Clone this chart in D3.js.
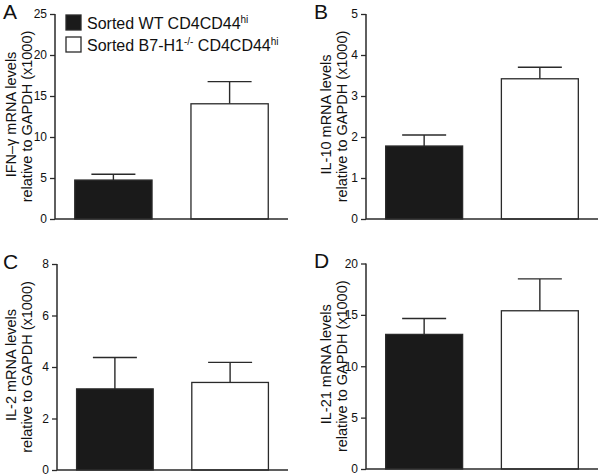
<!DOCTYPE html>
<html><head><meta charset="utf-8">
<script src="https://cdn.jsdelivr.net/npm/d3@7"></script>
<style>body{margin:0;background:#fff}text{font-family:"Liberation Sans",Arial,sans-serif;fill:#111}</style>
</head><body>
<svg id="c" width="600" height="476"></svg>
<script>
const categories = ["Sorted WT CD4CD44hi", "Sorted B7-H1-/- CD4CD44hi"];
const panelLetters = ["A", "B", "C", "D"];
const yLabelLine1 = ["IFN\u2013\u03b3 mRNA levels", "IL-10 mRNA levels", "IL-2 mRNA levels", "IL-21 mRNA levels"];
const yLabelLine2 = "relative to GAPDH (x1000)";
const meansA = [4.75, 14.05]; const errA = [0.7, 2.7];
const meansB = [1.78, 3.42];  const errB = [0.27, 0.28];
const meansC = [3.15, 3.4];   const errC = [1.22, 0.78];
const meansD = [13.1, 15.4];  const errD = [1.55, 3.1];
const ticksA = [0, 5, 10, 15, 20, 25];
const ticksB = [0, 1, 2, 3, 4, 5];
const ticksC = [0, 2, 4, 6, 8];
const ticksD = [0, 5, 10, 15, 20];

const fills = ["#1a1a1a", "#ffffff"];
const svg = d3.select("#c");
const layout = [
  {x0: 55, x1: 288, yTop: 14, yBot: 219, means: meansA, errs: errA, ticks: ticksA, l1: 16, l2: 32},
  {x0: 366, x1: 598, yTop: 14, yBot: 219, means: meansB, errs: errB, ticks: ticksB, l1: 331, l2: 347},
  {x0: 57, x1: 288, yTop: 264, yBot: 470, means: meansC, errs: errC, ticks: ticksC, l1: 16, l2: 32},
  {x0: 366, x1: 598, yTop: 263.5, yBot: 469, means: meansD, errs: errD, ticks: ticksD, l1: 331, l2: 347}
];

layout.forEach((p, i) => {
  const g = svg.append("g");
  const y = d3.scaleLinear().domain([0, d3.max(p.ticks)]).range([p.yBot, p.yTop]);
  const x = d3.scaleBand().domain(categories).range([p.x0, p.x1]).paddingInner(0.335).paddingOuter(0.17);
  categories.forEach((c, j) => {
    const v = p.means[j], e = p.errs[j];
    const cx = x(c) + x.bandwidth() / 2;
    g.append("line").attr("x1", cx).attr("x2", cx).attr("y1", y(v)).attr("y2", y(v + e))
      .attr("stroke", "#2a2a2a").attr("stroke-width", 1.4);
    g.append("line").attr("x1", cx - 22).attr("x2", cx + 22).attr("y1", y(v + e)).attr("y2", y(v + e))
      .attr("stroke", "#2a2a2a").attr("stroke-width", 1.4);
    g.append("rect").attr("x", x(c)).attr("width", x.bandwidth())
      .attr("y", y(v)).attr("height", y(0) - y(v))
      .attr("fill", fills[j]).attr("stroke", "#2a2a2a").attr("stroke-width", 1.3);
  });
  const ya = g.append("g").attr("transform", `translate(${p.x0},0)`)
    .call(d3.axisLeft(y).tickValues(p.ticks).tickSize(5).tickPadding(3).tickFormat(d3.format("d")));
  ya.select(".domain").attr("stroke", "#2a2a2a").attr("stroke-width", 1.5).attr("d", `M0,${p.yTop}V${p.yBot}`);
  ya.selectAll(".tick line").attr("stroke", "#2a2a2a").attr("stroke-width", 1.3);
  ya.selectAll(".tick text").style("font-family", '"Liberation Sans",Arial,sans-serif').style("font-size", "12px").style("fill", "#111");
  g.append("line").attr("x1", p.x0).attr("x2", p.x1).attr("y1", p.yBot).attr("y2", p.yBot)
    .attr("stroke", "#2a2a2a").attr("stroke-width", 1.5);
  const cy = (p.yTop + p.yBot) / 2;
  g.append("text").attr("transform", `translate(${p.l1},${cy - 2}) rotate(-90)`)
    .attr("text-anchor", "middle").style("font-size", "14.5px").text(yLabelLine1[i]);
  g.append("text").attr("transform", `translate(${p.l2},${cy}) rotate(-90)`)
    .attr("text-anchor", "middle").style("font-size", "14.5px").text(yLabelLine2);
  g.append("text").attr("x", (i % 2 === 0) ? 3 : 314).attr("y", p.yTop + 4.5)
    .style("font-size", "21px").text(panelLetters[i]);
});

const leg = svg.append("g");
const legendParts = [
  [["Sorted WT CD4CD44", false], ["hi", true]],
  [["Sorted B7-H1", false], ["-/-", true], [" CD4CD44", false], ["hi", true]]
];
legendParts.forEach((parts, j) => {
  const yy = 15 + j * 22;
  leg.append("rect").attr("x", 66).attr("y", yy).attr("width", 15).attr("height", 15)
    .attr("fill", fills[j]).attr("stroke", "#2a2a2a").attr("stroke-width", 1.3);
  const t = leg.append("text").attr("x", 87).attr("y", yy + 13.5).style("font-size", "16px");
  parts.forEach(([s, sup], k) => {
    const prevSup = k > 0 && parts[k - 1][1];
    const sp = t.append("tspan").text(s);
    if (sup) sp.attr("dy", -6).style("font-size", "10px");
    else if (prevSup) sp.attr("dy", 6);
  });
});
</script>
</body></html>
